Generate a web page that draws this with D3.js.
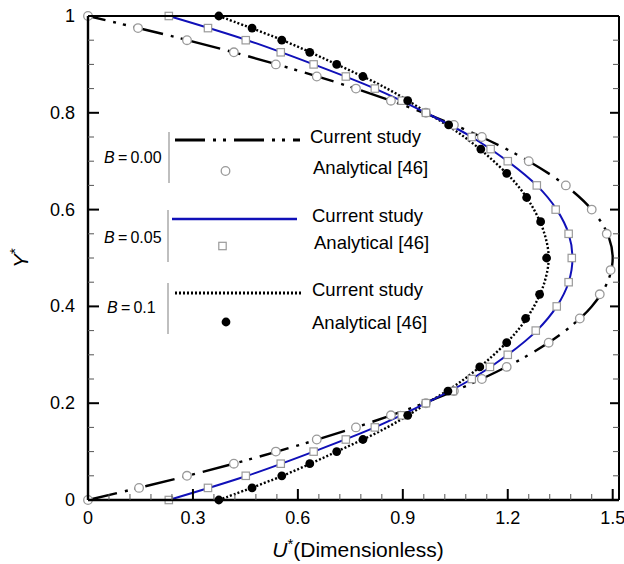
<!DOCTYPE html>
<html><head><meta charset="utf-8">
<script src="https://cdn.jsdelivr.net/npm/d3@7/dist/d3.min.js"></script>
<style>body{margin:0;background:#fff}svg{display:block;font-family:"Liberation Sans",Arial,sans-serif}</style>
</head><body>
<script>
// ---- data ----
const xTicks = [0, 0.3, 0.6, 0.9, 1.2, 1.5];
const xTickLabels = ["0", "0.3", "0.6", "0.9", "1.2", "1.5"];
const yTicks = [0, 0.2, 0.4, 0.6, 0.8, 1];
const yTickLabels = ["0", "0.2", "0.4", "0.6", "0.8", "1"];

const lineY = [0,0.05,0.1,0.15,0.2,0.25,0.3,0.35,0.4,0.45,0.5,0.55,0.6,0.65,0.7,0.75,0.8,0.85,0.9,0.95,1];
const lineU_B000 = [0,0.285,0.54,0.765,0.96,1.125,1.26,1.365,1.44,1.485,1.5,1.485,1.44,1.365,1.26,1.125,0.96,0.765,0.54,0.285,0];
const lineU_B005 = [0.231,0.455,0.645,0.82,0.966,1.097,1.2,1.283,1.34,1.374,1.385,1.374,1.34,1.283,1.2,1.097,0.966,0.82,0.645,0.455,0.231];
const lineU_B010 = [0.374,0.556,0.711,0.855,0.97,1.076,1.16,1.228,1.275,1.305,1.317,1.305,1.275,1.228,1.16,1.076,0.97,0.855,0.711,0.556,0.374];

// Analytical [46] points
const anaY_B000 = [1,0.975,0.95,0.925,0.9,0.875,0.85,0.825,0.8,0.775,0.75,0.7,0.65,0.6,0.55,0.475,0.425,0.375,0.325,0.275,0.25,0.225,0.2,0.175,0.15,0.125,0.1,0.075,0.05,0.025,0];
const anaU_B000 = [0,0.143,0.283,0.417,0.537,0.654,0.766,0.866,0.966,1.046,1.126,1.26,1.366,1.44,1.483,1.494,1.463,1.406,1.317,1.197,1.126,1.046,0.966,0.866,0.766,0.654,0.537,0.417,0.283,0.146,0];
const anaY_B005 = [1,0.975,0.95,0.925,0.9,0.875,0.85,0.825,0.8,0.75,0.725,0.7,0.65,0.6,0.55,0.5,0.45,0.4,0.35,0.3,0.275,0.25,0.225,0.2,0.175,0.15,0.125,0.1,0.075,0.05,0.025,0];
const anaU_B005 = [0.231,0.343,0.451,0.551,0.645,0.737,0.82,0.897,0.966,1.097,1.151,1.2,1.283,1.337,1.374,1.383,1.374,1.34,1.28,1.2,1.149,1.097,1.043,0.966,0.897,0.82,0.737,0.645,0.551,0.451,0.343,0.231];
const anaY_B010 = [1,0.975,0.95,0.925,0.9,0.875,0.825,0.775,0.725,0.675,0.625,0.575,0.5,0.425,0.375,0.325,0.275,0.225,0.175,0.125,0.1,0.075,0.05,0.025,0];
const anaU_B010 = [0.374,0.469,0.554,0.634,0.711,0.786,0.914,1.031,1.123,1.197,1.254,1.294,1.311,1.291,1.251,1.197,1.12,1.029,0.914,0.786,0.711,0.634,0.554,0.469,0.374];

const legendGroups = ["B = 0.00", "B = 0.05", "B = 0.1"];
const legendCurrent = "Current study";
const legendAnalytical = "Analytical [46]";

// ---- drawing ----
const W = 624, H = 564;
const L = 88, R = 619, T = 16, B = 500;
const svg = d3.select("body").append("svg").attr("width", W).attr("height", H);
const x = d3.scaleLinear().domain([0, 1.518]).range([L, R]);
const y = d3.scaleLinear().domain([0, 1]).range([B, T]);

const styles = {
  b0: {stroke: "#000", width: 2.4, dash: "30,8,3,7,3,8"},
  b5: {stroke: "#1010b8", width: 2, dash: null},
  b1: {stroke: "#000", width: 2.4, dash: "2,2"}
};

// curves
const lineGen = d3.line().x(d => x(d[0])).y(d => y(d[1])).curve(d3.curveCatmullRom);
function drawLine(us, st) {
  const pts = us.map((u, i) => [u, lineY[i]]);
  const p = svg.append("path").attr("d", lineGen(pts)).attr("fill", "none")
    .attr("stroke", st.stroke).attr("stroke-width", st.width);
  if (st.dash) p.attr("stroke-dasharray", st.dash);
}
drawLine(lineU_B000, styles.b0);
drawLine(lineU_B010, styles.b1);
drawLine(lineU_B005, styles.b5);

// markers
function circ(g, cx, cy) { g.append("circle").attr("cx", cx).attr("cy", cy).attr("r", 4.3).attr("fill", "#fff").attr("stroke", "#9a9a9a").attr("stroke-width", 1.3); }
function sq(g, cx, cy) { g.append("rect").attr("x", cx - 3.7).attr("y", cy - 3.7).attr("width", 7.4).attr("height", 7.4).attr("fill", "#fff").attr("stroke", "#9a9a9a").attr("stroke-width", 1.2); }
function dot(g, cx, cy) { g.append("circle").attr("cx", cx).attr("cy", cy).attr("r", 4.4).attr("fill", "#000"); }
const mk = svg.append("g");
anaU_B000.forEach((u, i) => circ(mk, x(u), y(anaY_B000[i])));
anaU_B005.forEach((u, i) => sq(mk, x(u), y(anaY_B005[i])));
anaU_B010.forEach((u, i) => dot(mk, x(u), y(anaY_B010[i])));

// axes frame
const ax = svg.append("g");
ax.append("line").attr("x1", L).attr("x2", R).attr("y1", T).attr("y2", T).attr("stroke", "#000").attr("stroke-width", 2);
ax.append("line").attr("x1", R).attr("x2", R).attr("y1", T).attr("y2", B).attr("stroke", "#000").attr("stroke-width", 2);
ax.append("line").attr("x1", L).attr("x2", L).attr("y1", T).attr("y2", B).attr("stroke", "#000").attr("stroke-width", 2.4);
ax.append("line").attr("x1", L).attr("x2", R).attr("y1", B).attr("y2", B).attr("stroke", "#000").attr("stroke-width", 2.4);

// ticks
const xMinor = d3.range(0, 1.5001, 0.06).filter(v => !xTicks.some(t => Math.abs(t - v) < 1e-6));
const yMinor = d3.range(0, 1.0001, 0.05).filter(v => !yTicks.some(t => Math.abs(t - v) < 1e-6));
xTicks.forEach(v => ax.append("line").attr("x1", x(v)).attr("x2", x(v)).attr("y1", B).attr("y2", B - 11).attr("stroke", "#000").attr("stroke-width", 2));
xMinor.forEach(v => ax.append("line").attr("x1", x(v)).attr("x2", x(v)).attr("y1", B).attr("y2", B - 6).attr("stroke", "#555").attr("stroke-width", 1));
yTicks.forEach(v => {
  ax.append("line").attr("x1", L).attr("x2", L + 11).attr("y1", y(v)).attr("y2", y(v)).attr("stroke", "#000").attr("stroke-width", 2);
  ax.append("line").attr("x1", R).attr("x2", R - 9).attr("y1", y(v)).attr("y2", y(v)).attr("stroke", "#000").attr("stroke-width", 2);
});
yMinor.forEach(v => {
  ax.append("line").attr("x1", L).attr("x2", L + 6).attr("y1", y(v)).attr("y2", y(v)).attr("stroke", "#555").attr("stroke-width", 1);
  ax.append("line").attr("x1", R).attr("x2", R - 6).attr("y1", y(v)).attr("y2", y(v)).attr("stroke", "#555").attr("stroke-width", 1);
});

// tick labels
xTicks.forEach((v, i) => ax.append("text").attr("x", x(v)).attr("y", 524).attr("text-anchor", "middle").attr("font-size", 18).text(xTickLabels[i]));
yTicks.forEach((v, i) => ax.append("text").attr("x", 75).attr("y", y(v) + 6).attr("text-anchor", "end").attr("font-size", 18).text(yTickLabels[i]));

// axis titles
const xt = svg.append("text").attr("x", 358).attr("y", 557).attr("text-anchor", "middle").attr("font-size", 21);
xt.append("tspan").attr("font-style", "italic").text("U");
xt.append("tspan").attr("dy", -8).attr("font-size", 15).text("*");
xt.append("tspan").attr("dy", 8).text("(Dimensionless)");
const yt = svg.append("text").attr("transform", "translate(28,258) rotate(-90)").attr("text-anchor", "middle").attr("font-size", 21);
yt.append("tspan").attr("font-style", "italic").text("Y");
yt.append("tspan").attr("dy", -8).attr("font-size", 15).text("*");

// legend
const lg = svg.append("g");
const groups = [
  {lineY: 140, curY: 143, anaY: 171, anaTY: 174, labY: 163, labX: 104, vx: 169, v1: 132, v2: 183, lx1: 175, lx2: 300, st: styles.b0, mark: circ, tx: 310, ax: 313},
  {lineY: 219, curY: 222, anaY: 246, anaTY: 249, labY: 243, labX: 104, vx: 168, v1: 210, v2: 262, lx1: 172, lx2: 297, st: styles.b5, mark: sq, tx: 312, ax: 314},
  {lineY: 293, curY: 296, anaY: 322, anaTY: 329, labY: 313, labX: 107, vx: 168, v1: 283, v2: 334, lx1: 175, lx2: 301, st: styles.b1, mark: dot, tx: 312, ax: 312}
];
groups.forEach((g, i) => {
  lg.append("line").attr("x1", g.vx).attr("x2", g.vx).attr("y1", g.v1).attr("y2", g.v2).attr("stroke", "#aaa").attr("stroke-width", 1.5);
  const l = lg.append("line").attr("x1", g.lx1).attr("x2", g.lx2).attr("y1", g.lineY).attr("y2", g.lineY)
    .attr("stroke", g.st.stroke).attr("stroke-width", g.st.width + 0.5);
  if (g.st.dash) l.attr("stroke-dasharray", g.st.dash);
  g.mark(lg, (g.lx1 + g.lx2) / 2 - 12, g.anaY);
  lg.append("text").attr("x", g.tx).attr("y", g.curY).attr("font-size", 18.5).text(legendCurrent);
  lg.append("text").attr("x", g.ax).attr("y", g.anaTY).attr("font-size", 18.5).text(legendAnalytical);
  const parts = legendGroups[i].split(" ");
  const t = lg.append("text").attr("x", g.labX).attr("y", g.labY).attr("font-size", 16);
  t.append("tspan").attr("font-style", "italic").text(parts[0]);
  t.append("tspan").text("\u2009" + parts[1] + "\u2009" + parts[2]);
});
</script>
</body></html>
